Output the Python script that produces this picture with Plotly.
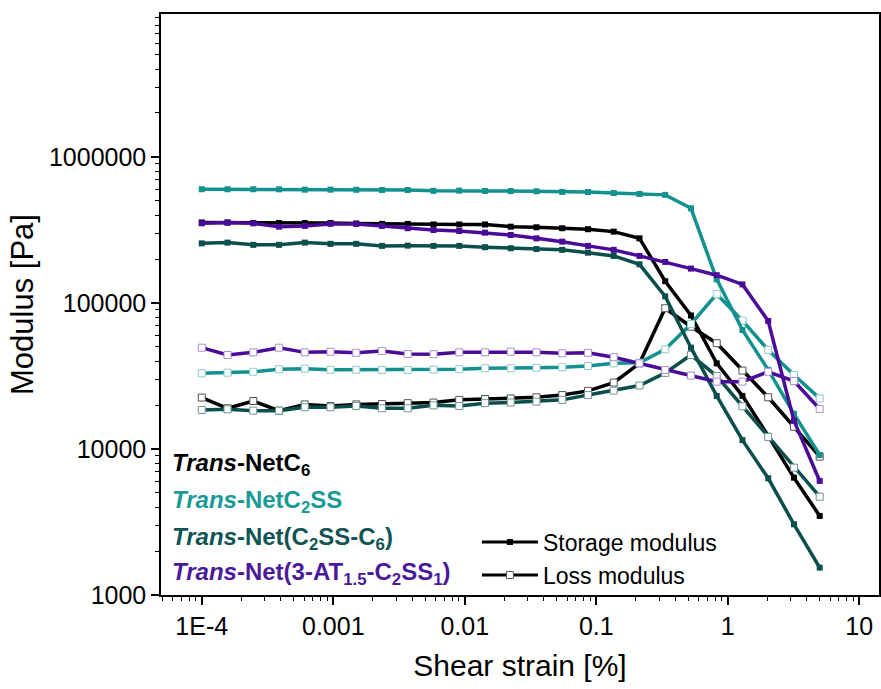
import plotly.graph_objects as go

# ---------------- data ----------------
strain = [1.000e-4, 1.570e-4, 2.464e-4, 3.868e-4, 6.071e-4, 9.528e-4, 1.496e-3, 2.348e-3,
          3.685e-3, 5.784e-3, 9.078e-3, 0.01425, 0.02236, 0.03510, 0.05509, 0.08648,
          0.1357, 0.2131, 0.3344, 0.5250, 0.8241, 1.293, 2.030, 3.187, 5.000]

c6_storage = [356000, 356000, 353000, 353000, 353000, 353000, 350000, 348000, 348000, 345000,
              345000, 345000, 333000, 330000, 325000, 320000, 308000, 277000, 141000, 82100,
              38600, 23100, 12300, 6360, 3480]
c6_loss = [22500, 19000, 21300, 18300, 20200, 19700, 20200, 20300, 20600, 20800,
           21700, 22000, 22200, 22600, 23400, 25000, 28500, 38600, 92000, 68800,
           53000, 34400, 22600, 14200, 8860]

c2ss_storage = [601000, 601000, 601000, 600000, 597000, 597000, 596000, 594000, 594000, 586000,
                588000, 585000, 584000, 582000, 576000, 575000, 566000, 558000, 550000, 445000,
                145000, 65300, 34800, 17400, 9100]
c2ss_loss = [33000, 33300, 33800, 35200, 35500, 34900, 34900, 34800, 34800, 35000,
             35200, 35700, 35700, 36000, 36300, 37000, 38600, 39000, 48200, 71800,
             115000, 75600, 47600, 32100, 22200]

mix_storage = [256000, 259000, 250000, 250000, 259000, 254000, 254000, 246000, 247000, 246000,
               246000, 241000, 237000, 234000, 231000, 221000, 210000, 184000, 111000, 49400,
               23100, 11500, 6300, 3050, 1540]
mix_loss = [18500, 18700, 18300, 18300, 19300, 19300, 19700, 19000, 19000, 19900,
            19700, 20600, 20800, 21100, 21700, 23400, 25100, 27200, 33200, 44000,
            31600, 19600, 12100, 7450, 4710]

at_storage = [351000, 355000, 351000, 333000, 337000, 348000, 348000, 337000, 325000, 316000,
              311000, 303000, 292000, 277000, 263000, 246000, 231000, 210000, 191000, 172000,
              155000, 134000, 75300, 15600, 6040]
at_loss = [49400, 44000, 45900, 49400, 45900, 46400, 45600, 46900, 44700, 44600,
           45900, 45900, 46400, 45900, 45200, 45600, 42500, 38600, 34800, 31800,
           28900, 28900, 33800, 29200, 18800]

x_tick_vals = [1e-4, 1e-3, 1e-2, 1e-1, 1, 10]
x_tick_text = ["1E-4", "0.001", "0.01", "0.1", "1", "10"]
y_tick_vals = [1000, 10000, 100000, 1000000]
y_tick_text = ["1000", "10000", "100000", "1000000"]

series = [
    # label html, line colour, hollow edge colour, text colour, storage, loss
    ("<b><i>Trans</i>-NetC<sub>6</sub></b>", "#000000", "#555555", "#000000", c6_storage, c6_loss),
    ("<b><i>Trans</i>-NetC<sub>2</sub>SS</b>", "#12918e", "#8cccca", "#1a9a97", c2ss_storage, c2ss_loss),
    ("<b><i>Trans</i>-Net(C<sub>2</sub>SS-C<sub>6</sub>)</b>", "#0b4f4c", "#6f9795", "#0f5553", mix_storage, mix_loss),
    ("<b><i>Trans</i>-Net(3-AT<sub>1.5</sub>-C<sub>2</sub>SS<sub>1</sub>)</b>", "#4a0c98", "#a88fd0", "#4b1a9b", at_storage, at_loss),
]

FONT = "Liberation Sans, Arial, sans-serif"

fig = go.Figure()
for label, col, edge, tcol, sto, los in series:
    fig.add_trace(go.Scatter(x=strain, y=los, mode="lines+markers", showlegend=False,
                             line=dict(color=col, width=3.5),
                             marker=dict(symbol="square", size=7, color="white",
                                         line=dict(color=edge, width=1))))
    fig.add_trace(go.Scatter(x=strain, y=sto, mode="lines+markers", showlegend=False,
                             line=dict(color=col, width=3.5),
                             marker=dict(symbol="square", size=6, color=col)))

# legend entries for the modulus type
fig.add_trace(go.Scatter(x=[None], y=[None], mode="lines+markers", name="Storage modulus",
                         line=dict(color="black", width=3),
                         marker=dict(symbol="square", size=6, color="black")))
fig.add_trace(go.Scatter(x=[None], y=[None], mode="lines+markers", name="Loss modulus",
                         line=dict(color="black", width=3),
                         marker=dict(symbol="square", size=7, color="white",
                                     line=dict(color="#555555", width=1))))

# series labels
label_y = [0.225, 0.161, 0.098, 0.037]
for (label, col, edge, tcol, sto, los), yy in zip(series, label_y):
    fig.add_annotation(text=label, xref="paper", yref="paper", x=0.012, y=yy,
                       xanchor="left", yanchor="middle", showarrow=False,
                       font=dict(family=FONT, size=24, color=tcol))

minor_x = [m * 10.0 ** e for e in range(-5, 2) for m in range(2, 10)]
minor_y = [m * 10.0 ** e for e in range(3, 7) for m in range(2, 10)]

axis_common = dict(type="log", showline=True, linecolor="black", linewidth=1.5, mirror=True,
                   ticks="outside", ticklen=8, tickwidth=1.5, tickcolor="black",
                   showgrid=False, zeroline=False,
                   tickfont=dict(family=FONT, size=25, color="black"))

fig.update_xaxes(**axis_common, range=[-4.31, 1.15], tickmode="array",
                 tickvals=x_tick_vals, ticktext=x_tick_text,
                 minor=dict(tickmode="array", tickvals=minor_x, ticks="outside", ticklen=4,
                            tickwidth=1.2, tickcolor="black", showgrid=False),
                 title=dict(text="Shear strain [%]", standoff=16,
                            font=dict(family=FONT, size=30, color="black")))
fig.update_yaxes(**axis_common, range=[3, 6.979], tickmode="array",
                 tickvals=y_tick_vals, ticktext=y_tick_text,
                 minor=dict(tickmode="array", tickvals=minor_y, ticks="outside", ticklen=4,
                            tickwidth=1.2, tickcolor="black", showgrid=False),
                 title=dict(text="Modulus [Pa]", standoff=6,
                            font=dict(family=FONT, size=31, color="black")))

fig.update_layout(width=881, height=689,
                  margin=dict(l=161, r=2, t=14, b=94, autoexpand=False),
                  plot_bgcolor="white", paper_bgcolor="white",
                  font=dict(family=FONT, color="black"),
                  legend=dict(x=0.44, y=0.128, xanchor="left", yanchor="top",
                              bgcolor="rgba(0,0,0,0)", borderwidth=0,
                              font=dict(family=FONT, size=23, color="black"),
                              tracegroupgap=0, itemwidth=56))

fig.write_html("out.html")
